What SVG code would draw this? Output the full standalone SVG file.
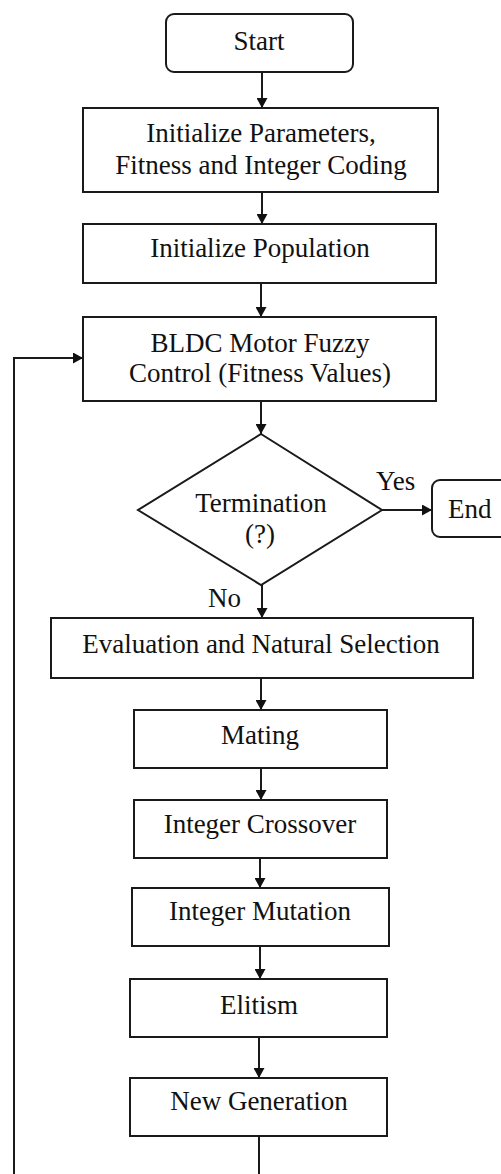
<svg xmlns="http://www.w3.org/2000/svg" width="501" height="1174" viewBox="0 0 501 1174" font-family="Liberation Serif, Times New Roman, serif">
<style>
.box{fill:#fff;stroke:#1a1a1a;stroke-width:2}
.t{font-size:27px;fill:#111;text-anchor:middle}
.tl{font-size:27px;fill:#111}
.c{fill:none;stroke:#1a1a1a;stroke-width:2}
</style>
<defs>
<marker id="ah" markerUnits="userSpaceOnUse" markerWidth="11" markerHeight="11" refX="10" refY="5.5" orient="auto">
<path d="M0,0 L10,5.5 L0,11 z" fill="#111"/>
</marker>
</defs>
<rect width="501" height="1174" fill="#fff"/>
<g id="connectors">
<line class="c" x1="262" y1="72" x2="262" y2="108" marker-end="url(#ah)"/>
<line class="c" x1="262" y1="192" x2="262" y2="224" marker-end="url(#ah)"/>
<line class="c" x1="261" y1="283" x2="261" y2="317" marker-end="url(#ah)"/>
<line class="c" x1="261" y1="401" x2="261" y2="434" marker-end="url(#ah)"/>
<line class="c" x1="382" y1="510" x2="432" y2="510" marker-end="url(#ah)"/>
<line class="c" x1="262" y1="585" x2="262" y2="618" marker-end="url(#ah)"/>
<line class="c" x1="261" y1="678" x2="261" y2="710" marker-end="url(#ah)"/>
<line class="c" x1="261" y1="768" x2="261" y2="800" marker-end="url(#ah)"/>
<line class="c" x1="260" y1="858" x2="260" y2="888" marker-end="url(#ah)"/>
<line class="c" x1="260" y1="946" x2="260" y2="979" marker-end="url(#ah)"/>
<line class="c" x1="259" y1="1037" x2="259" y2="1078" marker-end="url(#ah)"/>
<line class="c" x1="259" y1="1136" x2="259" y2="1174"/>
<polyline class="c" points="14,1174 14,358 83,358" marker-end="url(#ah)"/>
<text class="tl" x="376" y="490">Yes</text>
<text class="tl" x="208" y="607">No</text>
</g>
<g id="start">
<rect class="box" x="166" y="14" width="187" height="58" rx="8"/>
<text class="t" x="259" y="50">Start</text>
</g>
<g id="init-params">
<rect class="box" x="83" y="108" width="355" height="84"/>
<text class="t" x="261" y="142">Initialize Parameters,</text>
<text class="t" x="261" y="174">Fitness and Integer Coding</text>
</g>
<g id="init-pop">
<rect class="box" x="83" y="224" width="353" height="59"/>
<text class="t" x="260" y="257">Initialize Population</text>
</g>
<g id="bldc">
<rect class="box" x="83" y="317" width="353" height="84"/>
<text class="t" x="260" y="352">BLDC Motor Fuzzy</text>
<text class="t" x="260" y="382">Control (Fitness Values)</text>
</g>
<g id="termination">
<polygon class="box" points="261,434 382,510 261,585 138,510"/>
<text class="t" x="261" y="512">Termination</text>
<text class="t" x="260" y="543">(?)</text>
</g>
<g id="end">
<rect class="box" x="432" y="480" width="100" height="57" rx="8"/>
<text class="tl" x="448" y="518">End</text>
</g>
<g id="evaluation">
<rect class="box" x="51" y="618" width="422" height="60"/>
<text class="t" x="261" y="653">Evaluation and Natural Selection</text>
</g>
<g id="mating">
<rect class="box" x="134" y="710" width="253" height="58"/>
<text class="t" x="260" y="744">Mating</text>
</g>
<g id="crossover">
<rect class="box" x="134" y="800" width="253" height="58"/>
<text class="t" x="260" y="833">Integer Crossover</text>
</g>
<g id="mutation">
<rect class="box" x="132" y="888" width="257" height="58"/>
<text class="t" x="260" y="920">Integer Mutation</text>
</g>
<g id="elitism">
<rect class="box" x="130" y="979" width="257" height="58"/>
<text class="t" x="259" y="1014">Elitism</text>
</g>
<g id="new-generation">
<rect class="box" x="130" y="1078" width="257" height="58"/>
<text class="t" x="259" y="1110">New Generation</text>
</g>
</svg>
